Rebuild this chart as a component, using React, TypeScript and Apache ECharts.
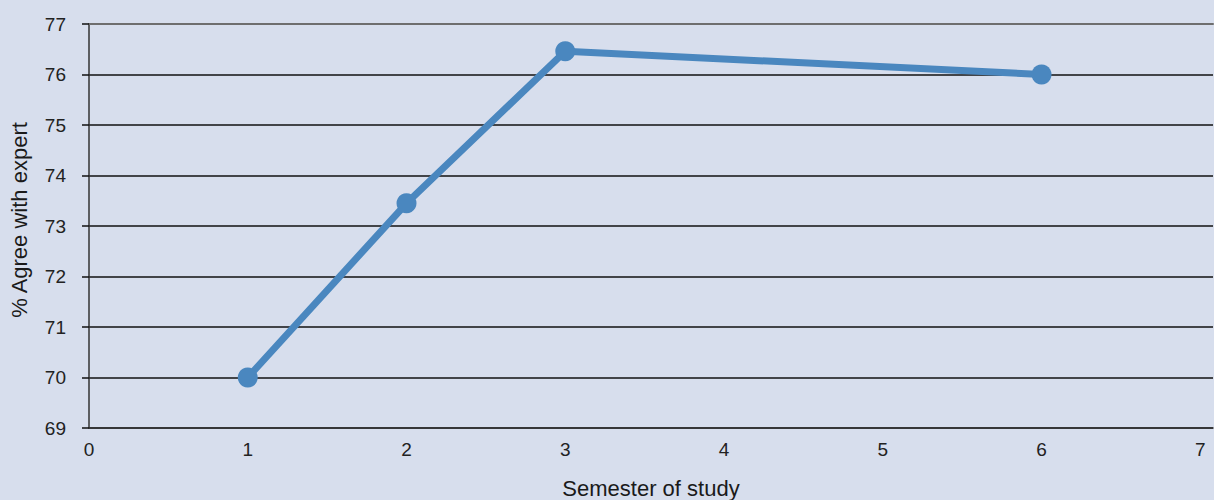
import React, { useEffect, useRef } from "react";
import * as echarts from "echarts";

// Semester of study vs. share agreeing with expert
const semesters: number[] = [1, 2, 3, 6];
const agreePct: number[] = [70.0, 73.45, 76.46, 76.0];

const yTicks = { min: 69, max: 77, step: 1 };
const xTicks = { min: 0, max: 7, step: 1 };

const FONT = "'Liberation Sans', Arial, Helvetica, sans-serif";

export default function App() {
  const ref = useRef<HTMLDivElement>(null);

  useEffect(() => {
    if (!ref.current) return;
    const chart = echarts.init(ref.current, undefined, { renderer: "svg" });
    chart.setOption({
      animation: false,
      backgroundColor: "#d7deed",
      textStyle: { fontFamily: FONT },
      grid: {
        left: 89,
        right: 1,
        top: 24,
        bottom: 72,
        containLabel: false,
        outerBoundsMode: "none",
      },
      xAxis: [
        {
          type: "value",
          min: xTicks.min,
          max: 7.08,
          interval: xTicks.step,
          name: "Semester of study",
          nameLocation: "middle",
          nameGap: 49,
          nameTextStyle: { color: "#1a1a1a", fontSize: 22, fontFamily: FONT },
          axisLine: { show: true, lineStyle: { color: "#333", width: 1.5 } },
          axisTick: { show: false },
          splitLine: { show: false },
          axisLabel: {
            color: "#222",
            fontSize: 19,
            margin: 12,
            fontFamily: FONT,
            formatter: (v: number) => (v <= xTicks.max ? String(v) : ""),
          },
        },
        {
          type: "value",
          position: "top",
          min: xTicks.min,
          max: 7.08,
          axisLine: { show: true, lineStyle: { color: "#6e6e6e", width: 2 } },
          axisTick: { show: false },
          axisLabel: { show: false },
          splitLine: { show: false },
        },
      ],
      yAxis: {
        type: "value",
        min: yTicks.min,
        max: yTicks.max,
        interval: yTicks.step,
        name: "% Agree with expert",
        nameLocation: "middle",
        nameGap: 59,
        nameTextStyle: {
          color: "#1a1a1a",
          fontSize: 22,
          fontFamily: FONT,
          padding: [0, 0, 0, 12],
        },
        axisLine: { show: true, lineStyle: { color: "#333", width: 1.5 } },
        axisTick: { show: true, length: 7, lineStyle: { color: "#111", width: 1.5 } },
        splitLine: { show: true, lineStyle: { color: "#111", width: 1.5 } },
        axisLabel: {
          color: "#222",
          fontSize: 19,
          margin: 23,
          fontFamily: FONT,
          padding: [0, 0, 11, 0],
        },
      },
      series: [
        {
          type: "line",
          data: semesters.map((s, i) => [s, agreePct[i]]),
          symbol: "circle",
          symbolSize: 20,
          lineStyle: { color: "#4a87bf", width: 7 },
          itemStyle: { color: "#4a87bf" },
          z: 5,
        },
      ],
    });
    return () => chart.dispose();
  }, []);

  return (
    <div
      ref={ref}
      style={{ position: "fixed", left: 0, top: 0, width: 1214, height: 500 }}
    />
  );
}
